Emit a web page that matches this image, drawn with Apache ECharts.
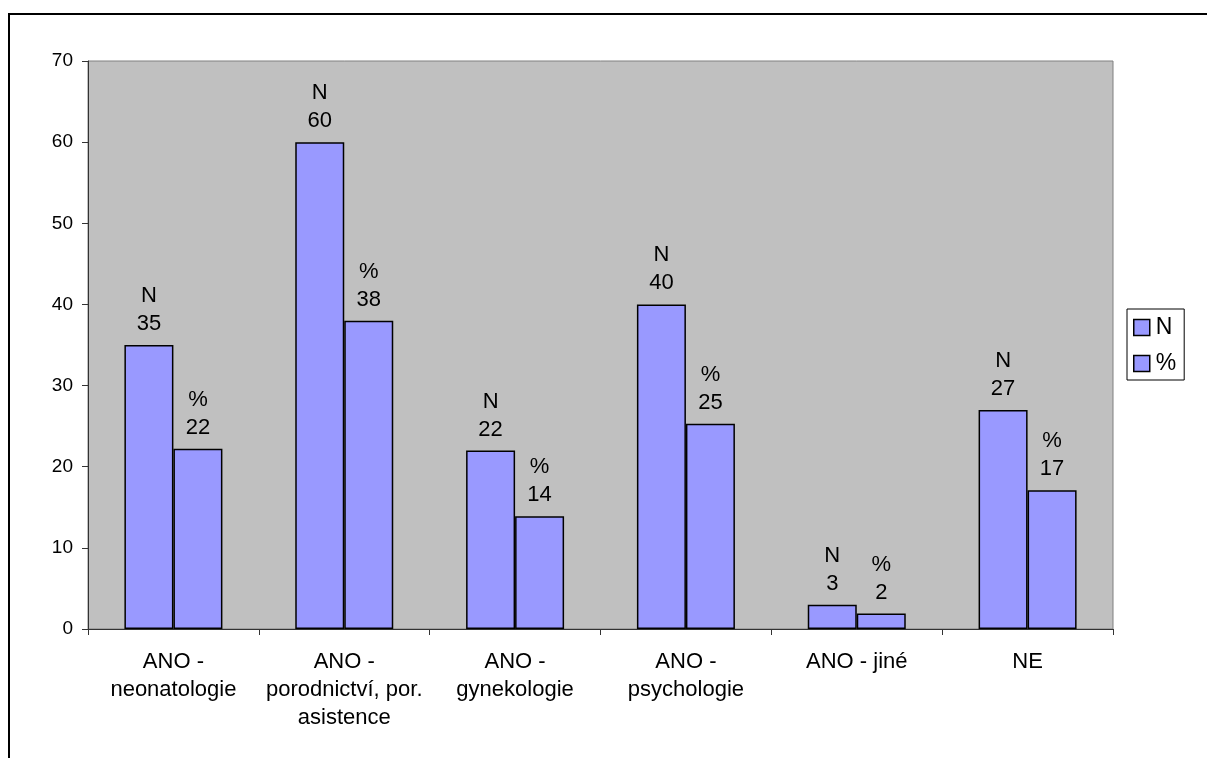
<!DOCTYPE html>
<html>
<head>
<meta charset="utf-8">
<script src="https://cdn.jsdelivr.net/npm/echarts@6/dist/echarts.min.js"></script>
<style>
html,body{margin:0;padding:0;background:#fff;}
#chart{width:1207px;height:758px;}
</style>
</head>
<body>
<div id="chart"></div>
<script>
const categories = [
  "ANO -\nneonatologie",
  "ANO -\nporodnictví, por.\nasistence",
  "ANO -\ngynekologie",
  "ANO -\npsychologie",
  "ANO - jiné",
  "NE"
];
const seriesNames = ["N", "%"];
const valuesN = [35, 60, 22, 40, 3, 27];
const valuesPct = [22.2, 38.0, 13.9, 25.3, 1.9, 17.1];
const yTicks = { min: 0, max: 70, interval: 10 };

const FONT = "'Liberation Sans', Arial, sans-serif";
const chart = echarts.init(document.getElementById('chart'), null, { renderer: 'canvas' });

function barSeries(name, data) {
  return {
    name: name,
    type: 'bar',
    data: data,
    barWidth: 49,
    barGap: '0%',
    itemStyle: { color: '#9999FF', borderColor: '#000', borderWidth: 1.5 },
    label: {
      show: true,
      position: 'top',
      distance: 7,
      color: '#000',
      fontFamily: FONT,
      fontSize: 22,
      lineHeight: 28,
      formatter: p => p.seriesName + '\n' + Math.round(p.value)
    },
    emphasis: { disabled: true },
    animation: false
  };
}

chart.setOption({
  animation: false,
  backgroundColor: '#fff',
  textStyle: { fontFamily: FONT },
  graphic: [{
    type: 'rect',
    shape: { x: 9, y: 14, width: 1400, height: 1000 },
    style: { fill: 'none', stroke: '#000', lineWidth: 2 },
    z: -10,
    silent: true
  }],
  grid: {
    left: 88, right: 94, top: 61, bottom: 129,
    show: true,
    backgroundColor: '#C0C0C0',
    borderColor: '#808080',
    borderWidth: 1
  },
  legend: {
    orient: 'vertical',
    left: 1127,
    top: 309,
    padding: [7, 8, 5, 6],
    itemWidth: 16,
    itemHeight: 16,
    itemGap: 13,
    borderColor: '#000',
    borderWidth: 1,
    backgroundColor: '#fff',
    icon: 'rect',
    itemStyle: { color: '#9999FF', borderColor: '#000', borderWidth: 1.5 },
    textStyle: { fontFamily: FONT, fontSize: 23, color: '#000', padding: [0, 0, 0, 1] },
    data: seriesNames,
    selectedMode: false
  },
  xAxis: {
    type: 'category',
    data: categories,
    axisLine: { lineStyle: { color: '#333', width: 1 } },
    axisTick: { show: true, length: 6, lineStyle: { color: '#333' } },
    axisLabel: {
      interval: 0,
      margin: 19,
      color: '#000',
      fontFamily: FONT,
      fontSize: 22,
      lineHeight: 28
    }
  },
  yAxis: {
    type: 'value',
    min: yTicks.min,
    max: yTicks.max,
    interval: yTicks.interval,
    axisLine: { show: true, lineStyle: { color: '#333', width: 1 } },
    axisTick: { show: true, length: 6, lineStyle: { color: '#333' } },
    splitLine: { show: false },
    axisLabel: { margin: 15, color: '#000', fontFamily: FONT, fontSize: 19 }
  },
  series: [
    barSeries(seriesNames[0], valuesN),
    barSeries(seriesNames[1], valuesPct)
  ]
});
</script>
</body>
</html>
